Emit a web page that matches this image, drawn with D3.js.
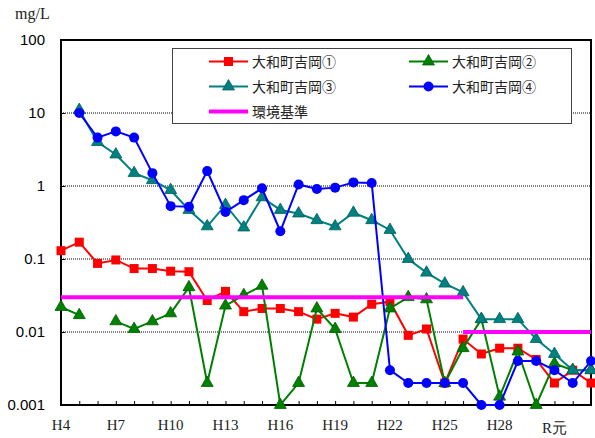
<!DOCTYPE html>
<html><head><meta charset="utf-8">
<script src="https://cdn.jsdelivr.net/npm/d3@7"></script>
<style>html,body{margin:0;padding:0;background:#fff;}svg{display:block;}</style>
</head><body>
<svg id="c" width="595" height="438"></svg>
<script>
// ---- data ----
const yearIndex = d3.range(30); // H4 .. R3
const xTickLabels = ["H4","H7","H10","H13","H16","H19","H22","H25","H28","R元"];
const xTickLabelIndex = [0,3,6,9,12,15,18,21,24,27];
const yTickValues = [0.001,0.01,0.1,1,10,100];
const yTickLabels = ["0.001","0.01","0.1","1","10","100"];
const seriesNames = ["大和町吉岡①","大和町吉岡②","大和町吉岡③","大和町吉岡④"];
const stdName = "環境基準";
const red   = [0.13,0.17,0.087,0.097,0.074,0.074,0.068,0.067,0.027,0.036,0.019,0.021,0.021,0.019,0.015,0.018,0.016,0.024,0.026,0.009,0.011,0.002,0.008,0.005,0.006,0.006,0.0042,0.002,0.003,0.002];
const green = [0.022,0.017,null,0.014,0.011,0.014,0.018,0.041,0.002,0.023,0.032,0.043,0.001,0.002,0.021,0.011,0.002,0.002,0.021,0.030,0.028,0.002,0.006,0.015,0.0013,0.0054,0.001,0.0037,0.003,0.003];
const teal  = [null,11,4.0,2.7,1.5,1.2,0.88,0.47,0.28,0.55,0.27,0.70,0.47,0.42,0.34,0.28,0.43,0.34,0.25,0.10,0.065,0.046,0.035,0.015,0.015,0.015,0.008,0.005,0.003,0.003];
const blue  = [null,10,4.6,5.6,4.6,1.5,0.53,0.52,1.6,0.44,0.64,0.93,0.24,1.05,0.91,0.95,1.12,1.1,0.003,0.002,0.002,0.002,0.002,0.001,0.001,0.004,0.004,0.003,0.002,0.004];
const stdFrom  = [0,22];
const stdTo    = [22,29];
const stdValue = [0.03,0.01];

// ---- layout ----
const svg = d3.select("#c");
const L = 61, T = 40, R = 591, B = 405;
const x = d3.scaleLinear().domain([0,29]).range([L,R]);
const y = d3.scaleLog().domain([0.001,100]).range([B,T]);
const sans = "'Liberation Sans', Arial, sans-serif";
const serif = "'Liberation Serif', 'DejaVu Serif', serif";
const jp = "'Noto Sans CJK JP', sans-serif";

// gridlines
svg.append("g").selectAll("line").data(yTickValues.filter(v=>v>0.001 && v<100)).join("line")
  .attr("x1",L).attr("x2",R).attr("y1",d=>y(d)).attr("y2",d=>y(d))
  .attr("stroke","#000").attr("stroke-width",1).attr("stroke-dasharray","1,1");

// y axis
const yAxis = svg.append("g").attr("transform",`translate(${L},0)`)
  .call(d3.axisLeft(y).tickValues(yTickValues).tickSize(-4).tickPadding(16)
    .tickFormat((d,i)=>yTickLabels[i]));
yAxis.select(".domain").remove();
yAxis.selectAll(".tick line").attr("stroke","#000");
yAxis.selectAll("text").attr("font-family",sans).attr("font-size",15).attr("fill","#000");

// x axis ticks
const xAxis = svg.append("g").attr("transform",`translate(0,${B})`)
  .call(d3.axisBottom(x).tickValues(yearIndex).tickSize(-4).tickFormat(""));
xAxis.select(".domain").remove();
xAxis.selectAll(".tick line").attr("stroke","#000");

// x labels
svg.append("g").selectAll("text").data(xTickLabels).join("text")
  .attr("x",(d,i)=>x(xTickLabelIndex[i])).attr("y",(d,i)=> d==="R元"?433:430)
  .attr("text-anchor","middle").attr("font-family",serif).attr("font-size",15).attr("fill","#222")
  .text(d=>d);

// unit
svg.append("text").attr("x",15).attr("y",19).attr("font-family",serif).attr("font-size",16).attr("fill","#222").text("mg/L");

// frame
svg.append("rect").attr("x",L).attr("y",T).attr("width",R-L).attr("height",B-T)
  .attr("fill","none").attr("stroke","#000").attr("stroke-width",2);

// series
const tri = d3.symbol().type(d3.symbolTriangle).size(62);
function drawSeries(vals,color,marker,stroke){
  const g = svg.append("g");
  const line = d3.line().defined(d=>d!=null).x((d,i)=>x(i)).y(d=>y(d));
  g.append("path").datum(vals).attr("d",line).attr("fill","none").attr("stroke",color).attr("stroke-width",2);
  const pts = vals.map((v,i)=>({v,i})).filter(p=>p.v!=null);
  if(marker==="square"){
    g.selectAll("rect").data(pts).join("rect")
      .attr("x",p=>x(p.i)-4.5).attr("y",p=>y(p.v)-4.5).attr("width",9).attr("height",9).attr("fill",color);
  } else if(marker==="tri"){
    g.selectAll("path.m").data(pts).join("path").attr("class","m")
      .attr("d",tri).attr("transform",p=>`translate(${x(p.i)},${y(p.v)})`)
      .attr("fill",color).attr("stroke",stroke).attr("stroke-width",0.8);
  } else {
    g.selectAll("circle").data(pts).join("circle")
      .attr("cx",p=>x(p.i)).attr("cy",p=>y(p.v)).attr("r",5).attr("fill",color);
  }
}
drawSeries(red,"#FF0000","square");
drawSeries(green,"#008000","tri","#006000");
drawSeries(teal,"#008080","tri","#006060");
drawSeries(blue,"#0000FF","circle");

// standard
svg.append("g").selectAll("line").data(stdValue).join("line")
  .attr("x1",(d,i)=>x(stdFrom[i])).attr("x2",(d,i)=>x(stdTo[i]))
  .attr("y1",d=>y(d)).attr("y2",d=>y(d))
  .attr("stroke","#FF00FF").attr("stroke-width",4);

// legend
const lg = svg.append("g");
lg.append("rect").attr("x",172.5).attr("y",48.5).attr("width",399).attr("height",75)
  .attr("fill","#fff").attr("stroke","#444").attr("stroke-width",1);
const legendItems = [
  {name:seriesNames[0],color:"#FF0000",marker:"square",col:0,row:0},
  {name:seriesNames[1],color:"#008000",marker:"tri",col:1,row:0,stroke:"#006000"},
  {name:seriesNames[2],color:"#008080",marker:"tri",col:0,row:1,stroke:"#006060"},
  {name:seriesNames[3],color:"#0000FF",marker:"circle",col:1,row:1},
  {name:stdName,color:"#FF00FF",marker:"none",col:0,row:2}
];
legendItems.forEach(it=>{
  const lx = it.col===0?209:409, ly = 61.5+it.row*25;
  lg.append("line").attr("x1",lx).attr("x2",lx+39).attr("y1",ly).attr("y2",ly)
    .attr("stroke",it.color).attr("stroke-width",it.marker==="none"?4:2);
  const cx = lx+19.5;
  if(it.marker==="square") lg.append("rect").attr("x",cx-4.5).attr("y",ly-4.5).attr("width",9).attr("height",9).attr("fill",it.color);
  if(it.marker==="tri") lg.append("path").attr("d",tri).attr("transform",`translate(${cx},${ly})`).attr("fill",it.color).attr("stroke",it.stroke).attr("stroke-width",0.8);
  if(it.marker==="circle") lg.append("circle").attr("cx",cx).attr("cy",ly).attr("r",5).attr("fill",it.color);
  lg.append("text").attr("x",lx+43).attr("y",ly+5).attr("font-family",jp).attr("font-size",14).attr("fill","#222").text(it.name);
});
</script>
</body></html>
